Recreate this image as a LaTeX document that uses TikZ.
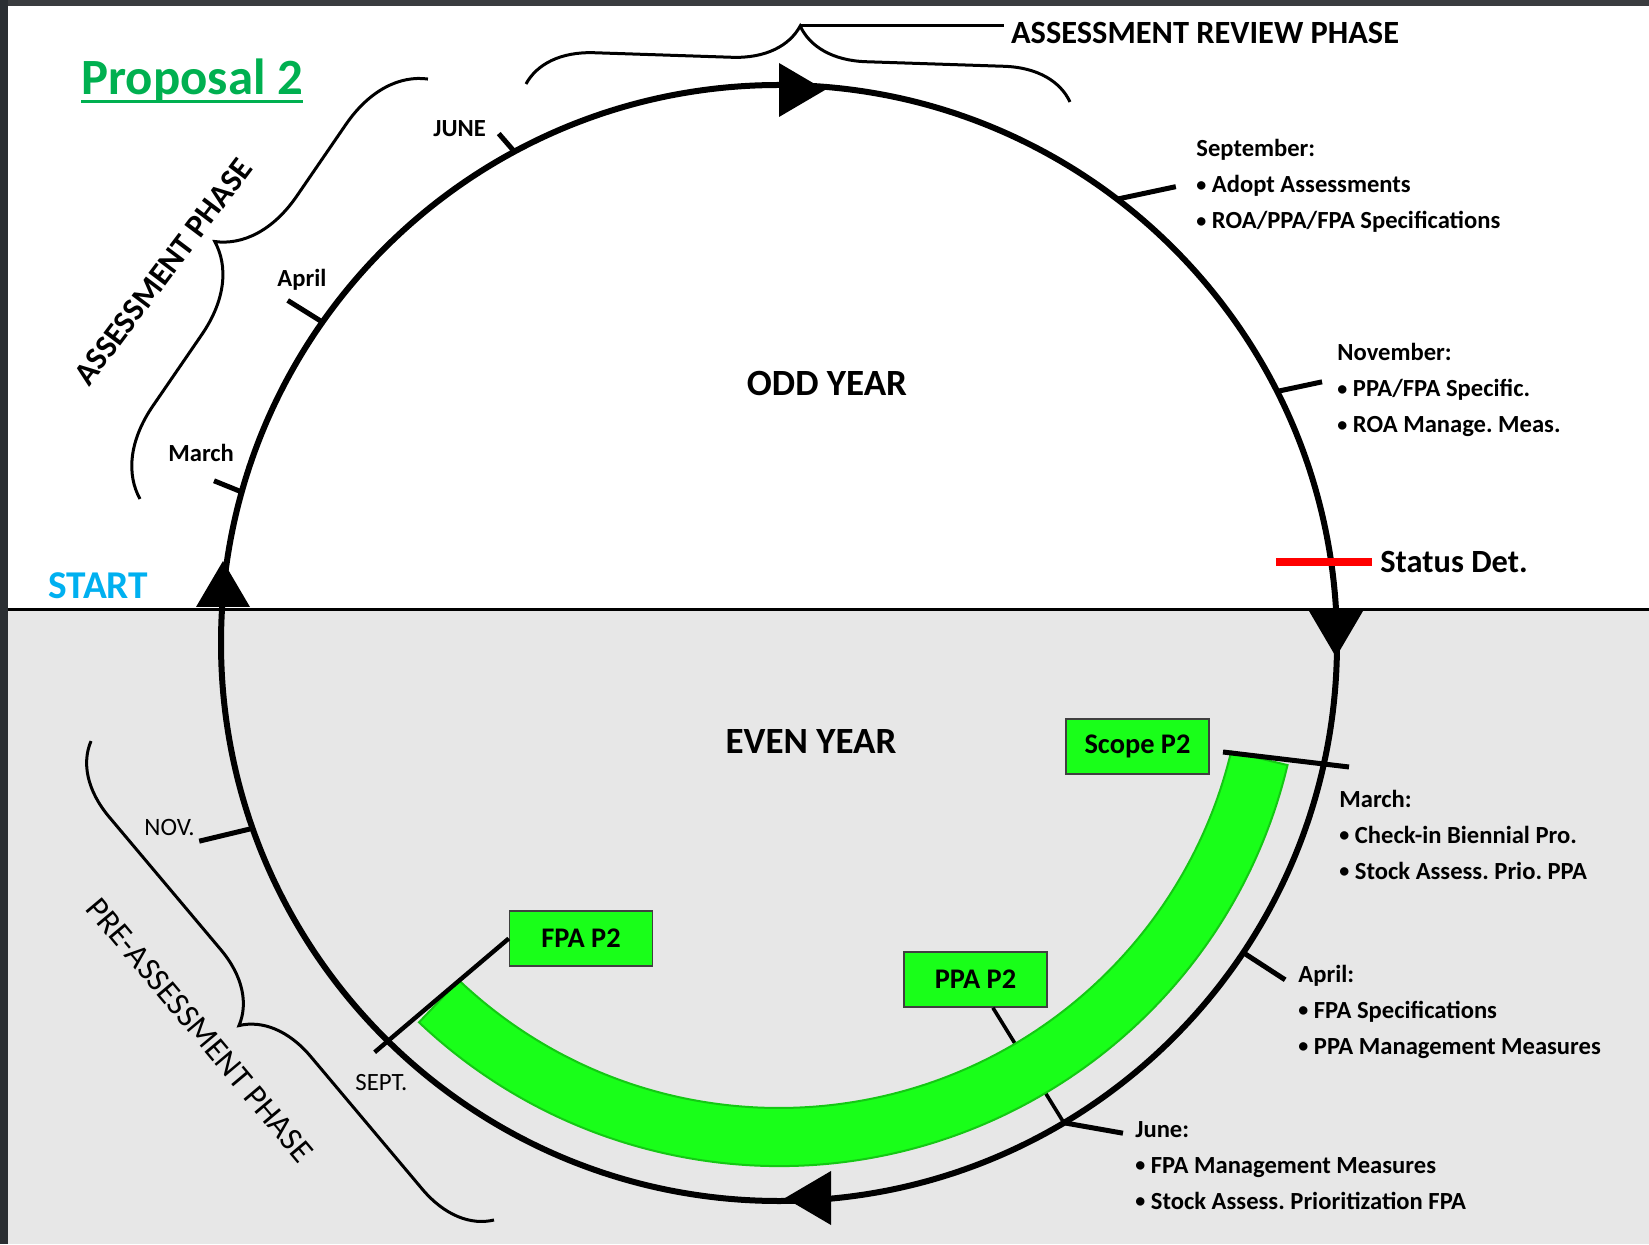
\documentclass[tikz,border=0pt]{standalone}
\usepackage{fontspec}
\setmainfont{Carlito}
\usetikzlibrary{calc,decorations.pathreplacing}
\frenchspacing

\definecolor{bandgreen}{HTML}{19FF19}
\definecolor{bandedge}{HTML}{14C814}
\definecolor{evengray}{HTML}{E7E7E7}
\definecolor{propgreen}{HTML}{00B050}
\definecolor{startblue}{HTML}{00B0F0}
\definecolor{topframe}{HTML}{3A3C3F}
\definecolor{sideframe}{HTML}{2A2E32}

\newcommand\dotitem{\raisebox{0.6pt}{\fontsize{10}{10}\selectfont•}\ }

\tikzset{
  phasebrace/.style={decorate,decoration={brace,amplitude=#1},line width=1.5pt},
  phaselbl/.style={font=\fontsize{16.2}{18}\selectfont\bfseries},
  yearlbl/.style={font=\fontsize{18.5}{20}\selectfont\bfseries},
  greenbox/.style={draw=black!75,line width=0.75pt,fill=bandgreen,
    minimum width=71.5pt,minimum height=27.5pt,inner sep=0pt,
    font=\fontsize{14.2}{16}\selectfont\bfseries},
}

\begin{document}
\begin{tikzpicture}[x=0.5pt,y=0.5pt]
  \useasboundingbox (0,0) rectangle (1649,1244);

  \fill[evengray] (0,0) rectangle (1649,634);
  \fill[topframe] (0,1238) rectangle (1649,1244);
  \fill[sideframe] (0,0) rectangle (8,1244);
  \draw[line width=1.5pt] (8,634) -- (1649,634);

  \coordinate (ctr) at (779,601);
  \draw[line width=3pt] (ctr) circle[radius=558];

  \foreach \x/\y/\r in {223/660/90, 802/1154/0, 1336/610/-90, 808/46/180}
    \fill[shift={(\x,\y)},rotate=\r] (-23,27) -- (23,0) -- (-23,-27) -- cycle;

  % month marks on the cycle
  \coordinate (mar1) at ($(ctr)+(164.3:558)$);
  \coordinate (apr1) at ($(ctr)+(144.9:558)$);
  \coordinate (jun1) at ($(ctr)+(118.3:558)$);
  \coordinate (sep1) at ($(ctr)+(52.7:558)$);
  \coordinate (nov1) at ($(ctr)+(26.8:558)$);
  \coordinate (apr2) at ($(ctr)+(-33.7:558)$);
  \coordinate (jun2) at ($(ctr)+(-59.3:558)$);
  \coordinate (sep2) at ($(ctr)+(225.5:558)$);
  \coordinate (nov2) at ($(ctr)+(199.4:558)$);
  \coordinate (mar1o) at ($(mar1)+(158:30)$);
  \coordinate (apr1o) at ($(apr1)+(148:41)$);
  \coordinate (jun1o) at ($(jun1)+(131:24)$);
  \coordinate (sep1o) at ($(sep1)+(12:60)$);
  \coordinate (nov1o) at ($(nov1)+(12:46)$);
  \coordinate (apr2o) at ($(apr2)+(-33:50)$);
  \coordinate (jun2o) at ($(jun2)+(-10:60)$);
  \coordinate (nov2o) at ($(nov2)+(193.5:55)$);
  \coordinate (mar2a) at (1223,492);
  \coordinate (mar2b) at (1349,477);

  \begin{scope}[every node/.style={greenbox}]
    \node (scp) at (1137.5,497.5) {Scope P2};
    \node (fpa) at (581,305.5) {FPA P2};
    \node (ppa) at (975.5,264.5) {PPA P2};
  \end{scope}

  \draw[line width=1.8pt] (ppa) -- (jun2);

  \draw[bandedge,line width=1pt,fill=bandgreen]
    ($(ctr)+(-13.5:523)$) arc[start angle=-13.5,end angle=-133.5,radius=523]
    -- ($(ctr)+(-133.5:465)$) arc[start angle=-133.5,end angle=-13.5,radius=465]
    -- cycle;

  \begin{scope}[every edge/.style={draw,line width=2.5pt}]
    \path (mar1) edge (mar1o);
    \path (apr1) edge (apr1o);
    \path (jun1) edge (jun1o);
    \path (sep1) edge (sep1o);
    \path (nov1) edge (nov1o);
    \path (apr2) edge (apr2o);
    \path (jun2) edge (jun2o);
    \path (nov2) edge (nov2o);
    \path (mar2a) edge (mar2b);
    \path (fpa.west) edge[line width=2.2pt] ($(fpa.west)!1.11!(sep2)$);
  \end{scope}

  \node[anchor=west,inner sep=4pt,font=\fontsize{16.2}{18}\selectfont\bfseries]
    (stat) at (1372,682) {Status Det.};
  \draw[red,line width=4pt] (1276,682) -- (stat.west);

  % phases
  \draw[phasebrace=42pt] (140,745) -- (428,1165);
  \draw[phasebrace=33.5pt] (526,1160) -- (1070,1142);
  \draw[phasebrace=35pt] (494,24) -- (91,503);
  \coordinate (revtip) at (800,1218);
  \node[phaselbl,anchor=west] (rev) at (1004,1211) {ASSESSMENT REVIEW PHASE};
  \draw[line width=1.5pt] (revtip) -- (revtip -| rev.west);
  \node[phaselbl,rotate=53] (asp) at (163,972) {ASSESSMENT PHASE};
  \node[font=\fontsize{16.5}{18}\selectfont,rotate=-50] (pre) at (200,214)
    {PRE-ASSESSMENT PHASE};

  \node[yearlbl] (odd) at (827,861) {ODD YEAR};
  \node[yearlbl] (even) at (811,502) {EVEN YEAR};

  \node[anchor=base west,inner sep=0pt,text=propgreen,
    font=\fontsize{25.4}{28}\selectfont\bfseries] (prop) at (81,1149) {Proposal 2};
  \draw[propgreen,line width=1.5pt]
    ([yshift=-3.5pt]prop.base west) -- ([yshift=-3.5pt]prop.base east);
  \node[anchor=base west,inner sep=0pt,text=startblue,
    font=\fontsize{19.7}{22}\selectfont\bfseries] (start) at (48,645) {START};

  \begin{scope}[every node/.style={anchor=base west,inner sep=0pt,
      font=\fontsize{12.3}{14}\selectfont\bfseries}]
    \node (jun1l) at (433,1107) {JUNE};
    \node (apr1l) at (277,957) {April};
    \node (mar1l) at (168,782) {March};
    \node[font=\fontsize{12.5}{14}\selectfont] (nov2l) at (144,409) {NOV.};
    \node[font=\fontsize{12.4}{14}\selectfont] (sep2l) at (355,154) {SEPT.};
  \end{scope}

  % base of each block is its last line
  \begin{scope}[every node/.style={anchor=base west,inner sep=0pt,align=left,
      font=\fontsize{12.3}{18}\selectfont\bfseries}]
    \node (sep1l) at (1196,1015)
      {September:\\\dotitem Adopt Assessments\\\dotitem ROA/PPA/FPA Specifications};
    \node (nov1l) at (1337,811)
      {November:\\\dotitem PPA/FPA Specific.\\\dotitem ROA Manage. Meas.};
    \node (mar2l) at (1339,365)
      {March:\\\dotitem Check-in Biennial Pro.\\\dotitem Stock Assess. Prio. PPA};
    \node (apr2l) at (1298,190)
      {April:\\\dotitem FPA Specifications\\\dotitem PPA Management Measures};
    \node (jun2l) at (1135,35)
      {June:\\\dotitem FPA Management Measures\\\dotitem Stock Assess. Prioritization FPA};
  \end{scope}
\end{tikzpicture}
\end{document}
